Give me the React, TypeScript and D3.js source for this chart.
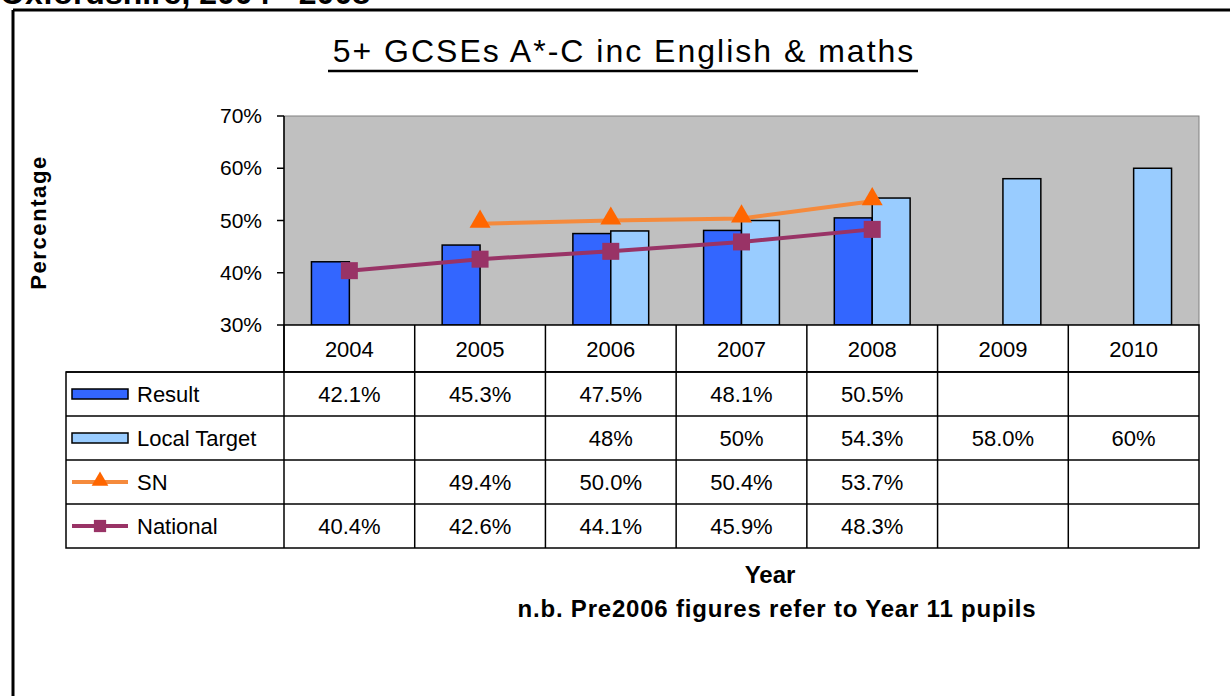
import React from 'react';
import * as d3 from 'd3';

const years = ['2004', '2005', '2006', '2007', '2008', '2009', '2010'];
const resultValues: (number | null)[] = [42.1, 45.3, 47.5, 48.1, 50.5, null, null];
const localTargetValues: (number | null)[] = [null, null, 48, 50, 54.3, 58.0, 60];
const snValues: (number | null)[] = [null, 49.4, 50.0, 50.4, 53.7, null, null];
const nationalValues: (number | null)[] = [40.4, 42.6, 44.1, 45.9, 48.3, null, null];

const resultLabels = ['42.1%', '45.3%', '47.5%', '48.1%', '50.5%', '', ''];
const localTargetLabels = ['', '', '48%', '50%', '54.3%', '58.0%', '60%'];
const snLabels = ['', '49.4%', '50.0%', '50.4%', '53.7%', '', ''];
const nationalLabels = ['40.4%', '42.6%', '44.1%', '45.9%', '48.3%', '', ''];

const yTicks = [30, 40, 50, 60, 70];

const W = 1230;
const H = 696;
const plotLeft = 284;
const plotRight = 1199;
const plotTop = 116;
const plotBottom = 325;
const headerBottom = 372;
const rowH = 44;
const legendLeft = 66;

const C_RESULT = '#3366FF';
const C_TARGET = '#99CCFF';
const C_SN_LINE = '#F58A3C';
const C_SN_MARK = '#FF6600';
const C_NAT = '#993366';

const FONT = '"Liberation Sans", Arial, sans-serif';

export default function App() {
  const x = d3.scaleBand<string>().domain(years).range([plotLeft, plotRight]).padding(0);
  const bw = x.bandwidth();
  const inner = d3
    .scaleBand<string>()
    .domain(['result', 'target'])
    .range([bw * 0.21, bw * 0.79])
    .padding(0);
  const y = d3.scaleLinear().domain([30, 70]).range([plotBottom, plotTop]);
  const cx = (i: number) => (x(years[i]) as number) + bw / 2;

  const line = d3
    .line<[number, number | null]>()
    .defined((d) => d[1] != null)
    .x((d) => cx(d[0]))
    .y((d) => y(d[1] as number));

  const tri = d3.symbol(d3.symbolTriangle, 190)() as string;
  const sq = d3.symbol(d3.symbolSquare, 289)() as string;
  const triSmall = d3.symbol(d3.symbolTriangle, 120)() as string;
  const sqSmall = d3.symbol(d3.symbolSquare, 150)() as string;

  const rows = [
    { name: 'Result', labels: resultLabels, kind: 'bar', color: C_RESULT },
    { name: 'Local Target', labels: localTargetLabels, kind: 'bar', color: C_TARGET },
    { name: 'SN', labels: snLabels, kind: 'sn', color: C_SN_LINE },
    { name: 'National', labels: nationalLabels, kind: 'nat', color: C_NAT },
  ];
  const tableBottom = headerBottom + rowH * rows.length;
  const tableFont = 22;

  return (
    <svg
      width={W}
      height={H}
      style={{ position: 'absolute', left: 0, top: 0, background: '#fff' }}
      fontFamily={FONT}
    >
      <rect x={0} y={0} width={W} height={H} fill="#fff" />
      {/* cut-off heading */}
      <text x={0} y={4} fontSize={32} fontWeight="bold" fill="#000">
        Oxfordshire, 2004 - 2008
      </text>
      {/* frame */}
      <line x1={13} y1={10} x2={W} y2={10} stroke="#000" strokeWidth={3} />
      <line x1={13} y1={10} x2={13} y2={H} stroke="#000" strokeWidth={3} />

      {/* title */}
      <text x={624} y={62} fontSize={32} letterSpacing={2} textAnchor="middle" fill="#000">
        5+ GCSEs A*-C inc English &amp; maths
      </text>
      <line x1={328} y1={71} x2={918} y2={71} stroke="#000" strokeWidth={2.5} />

      {/* y axis label */}
      <text
        transform={`translate(46,${(plotTop + plotBottom) / 2 + 2}) rotate(-90)`}
        fontSize={22}
        fontWeight="bold"
        letterSpacing={1.6}
        textAnchor="middle"
        fill="#000"
      >
        Percentage
      </text>

      {/* plot area */}
      <rect
        x={plotLeft}
        y={plotTop}
        width={plotRight - plotLeft}
        height={plotBottom - plotTop}
        fill="#C0C0C0"
        stroke="#808080"
        strokeWidth={1}
      />

      {/* bars */}
      {years.map((yr, i) => (
        <g key={'b' + yr}>
          {resultValues[i] != null && (
            <rect
              x={(x(yr) as number) + (inner('result') as number)}
              y={y(resultValues[i] as number)}
              width={inner.bandwidth()}
              height={plotBottom - y(resultValues[i] as number)}
              fill={C_RESULT}
              stroke="#000"
              strokeWidth={1.5}
            />
          )}
          {localTargetValues[i] != null && (
            <rect
              x={(x(yr) as number) + (inner('target') as number)}
              y={y(localTargetValues[i] as number)}
              width={inner.bandwidth()}
              height={plotBottom - y(localTargetValues[i] as number)}
              fill={C_TARGET}
              stroke="#000"
              strokeWidth={1.5}
            />
          )}
        </g>
      ))}

      {/* SN line */}
      <path
        d={line(snValues.map((v, i) => [i, v] as [number, number | null])) || ''}
        fill="none"
        stroke={C_SN_LINE}
        strokeWidth={4}
      />
      {snValues.map((v, i) =>
        v == null ? null : (
          <path key={'s' + i} d={tri} transform={`translate(${cx(i)},${y(v) - 2})`} fill={C_SN_MARK} />
        )
      )}
      {/* National line */}
      <path
        d={line(nationalValues.map((v, i) => [i, v] as [number, number | null])) || ''}
        fill="none"
        stroke={C_NAT}
        strokeWidth={4}
      />
      {nationalValues.map((v, i) =>
        v == null ? null : (
          <path key={'n' + i} d={sq} transform={`translate(${cx(i)},${y(v)})`} fill={C_NAT} />
        )
      )}

      {/* y axis */}
      <line x1={plotLeft} y1={plotTop} x2={plotLeft} y2={plotBottom} stroke="#000" strokeWidth={1.5} />
      {yTicks.map((t) => (
        <g key={'t' + t}>
          <line x1={plotLeft - 7} y1={y(t)} x2={plotLeft} y2={y(t)} stroke="#000" strokeWidth={1.5} />
          <text x={262} y={y(t) + 7} fontSize={21} textAnchor="end" fill="#000">
            {t}%
          </text>
        </g>
      ))}

      {/* data table */}
      <rect
        x={plotLeft}
        y={plotBottom}
        width={plotRight - plotLeft}
        height={headerBottom - plotBottom}
        fill="#fff"
        stroke="#000"
        strokeWidth={1.5}
      />
      <rect
        x={legendLeft}
        y={headerBottom}
        width={plotRight - legendLeft}
        height={tableBottom - headerBottom}
        fill="#fff"
        stroke="#000"
        strokeWidth={1.5}
      />
      {rows.map((r, ri) => (
        <line
          key={'hl' + ri}
          x1={legendLeft}
          x2={plotRight}
          y1={headerBottom + rowH * ri}
          y2={headerBottom + rowH * ri}
          stroke="#000"
          strokeWidth={1.5}
        />
      ))}
      {years.map((yr) => (
        <line
          key={'vl' + yr}
          x1={x(yr) as number}
          x2={x(yr) as number}
          y1={plotBottom}
          y2={tableBottom}
          stroke="#000"
          strokeWidth={1.5}
        />
      ))}
      {years.map((yr) => (
        <text
          key={'yh' + yr}
          x={(x(yr) as number) + bw / 2}
          y={(plotBottom + headerBottom) / 2 + 8}
          fontSize={tableFont}
          textAnchor="middle"
          fill="#000"
        >
          {yr}
        </text>
      ))}
      {rows.map((r, ri) => {
        const yc = headerBottom + rowH * ri + rowH / 2;
        return (
          <g key={'row' + ri}>
            {r.kind === 'bar' && (
              <rect x={72} y={yc - 5} width={56} height={10} fill={r.color} stroke="#000" strokeWidth={1.5} />
            )}
            {r.kind === 'sn' && (
              <g>
                <line x1={72} x2={128} y1={yc} y2={yc} stroke={C_SN_LINE} strokeWidth={4} />
                <path d={triSmall} transform={`translate(100,${yc - 1})`} fill={C_SN_MARK} />
              </g>
            )}
            {r.kind === 'nat' && (
              <g>
                <line x1={72} x2={128} y1={yc} y2={yc} stroke={C_NAT} strokeWidth={4} />
                <path d={sqSmall} transform={`translate(100,${yc})`} fill={C_NAT} />
              </g>
            )}
            <text x={137} y={yc + 8} fontSize={tableFont} fill="#000">
              {r.name}
            </text>
            {r.labels.map((lab, i) => (
              <text
                key={'c' + i}
                x={cx(i)}
                y={yc + 8}
                fontSize={tableFont}
                textAnchor="middle"
                fill="#000"
              >
                {lab}
              </text>
            ))}
          </g>
        );
      })}

      {/* x axis title + note */}
      <text x={770} y={583} fontSize={24} fontWeight="bold" textAnchor="middle" fill="#000">
        Year
      </text>
      <text
        x={777}
        y={617}
        fontSize={24}
        fontWeight="bold"
        letterSpacing={0.8}
        textAnchor="middle"
        fill="#000"
      >
        n.b. Pre2006 figures refer to Year 11 pupils
      </text>
    </svg>
  );
}
